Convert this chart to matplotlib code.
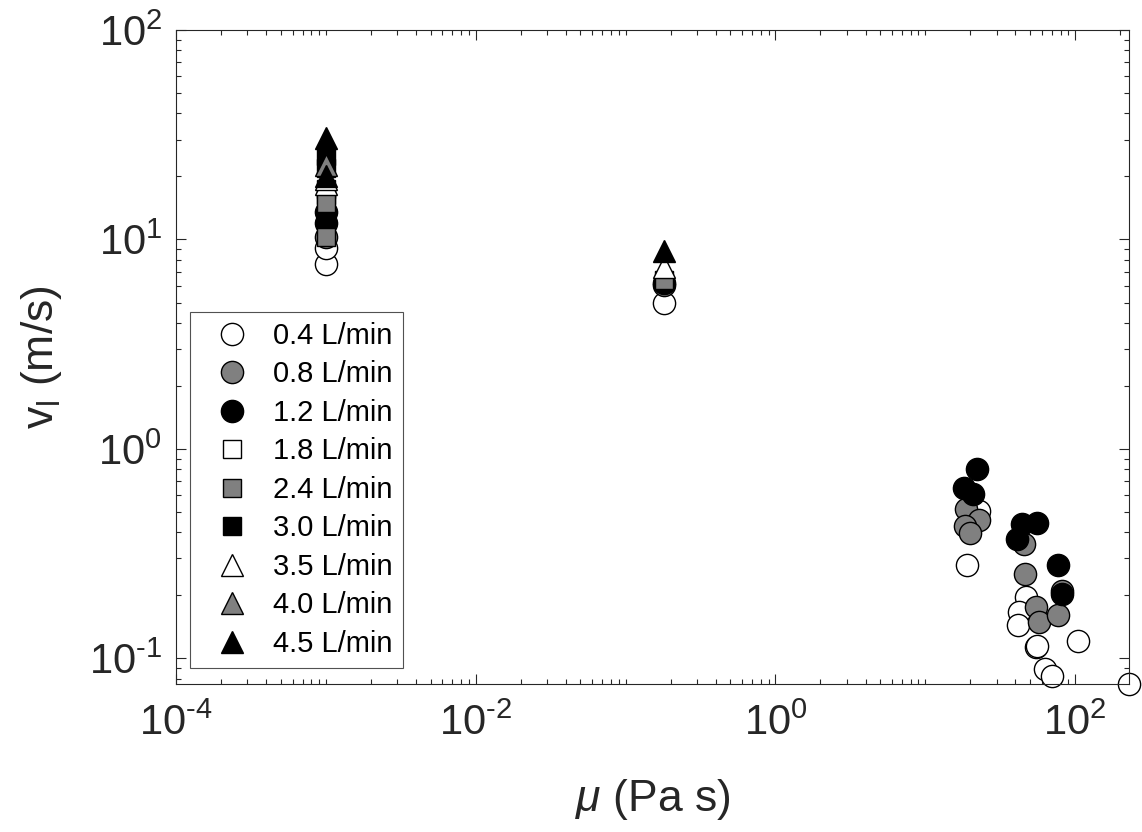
import matplotlib
matplotlib.use('Agg')
import numpy as np
from matplotlib import pyplot as plt
from matplotlib.ticker import FixedLocator, LogLocator, NullFormatter, FuncFormatter

plt.rcParams['font.family'] = ['Liberation Sans', 'DejaVu Sans']
plt.rcParams['mathtext.fontset'] = 'custom'
plt.rcParams['mathtext.rm'] = 'Liberation Sans'
plt.rcParams['mathtext.it'] = 'Liberation Sans:italic'
plt.rcParams['axes.unicode_minus'] = False

# viscosity (Pa s) and liquid velocity (m/s) for each flow rate
mu_04 = [1e-3, 1e-3, 0.18, 22.9, 19.1, 47.4, 42.3, 41.7, 54.7, 56, 62.6, 70.6, 105, 229]
v_04 = [7.6, 9.1, 4.95, 0.505, 0.278, 0.196, 0.166, 0.145, 0.113, 0.115, 0.0893, 0.082, 0.1216, 0.0755]

mu_08 = [1e-3, 0.18, 18.7, 22.9, 18.5, 19.9, 45.7, 46.4, 54.7, 57.5, 77.4, 82]
v_08 = [10.3, 6.05, 0.515, 0.456, 0.428, 0.398, 0.35, 0.253, 0.176, 0.149, 0.161, 0.21]

mu_12 = [1e-3, 1e-3, 0.18, 22.1, 18.2, 20.7, 44.5, 56.1, 41.2, 77.4, 81.5]
v_12 = [12.0, 13.5, 6.2, 0.805, 0.653, 0.607, 0.436, 0.445, 0.37, 0.279, 0.202]

mu_18 = [1e-3, 1e-3]
v_18 = [16.3, 17.5]

mu_24 = [1e-3, 1e-3, 0.18]
v_24 = [10.3, 15.0, 6.4]

mu_30 = [1e-3, 1e-3]
v_30 = [22.0, 25.0]

mu_35 = [1e-3, 1e-3, 0.18]
v_35 = [18.5, 19.5, 7.35]

mu_40 = [1e-3]
v_40 = [22.6]

mu_45 = [1e-3, 1e-3, 0.18]
v_45 = [20.0, 30.5, 8.85]

labels = ['0.4 L/min', '0.8 L/min', '1.2 L/min', '1.8 L/min', '2.4 L/min',
          '3.0 L/min', '3.5 L/min', '4.0 L/min', '4.5 L/min']

series = [(mu_04, v_04, 'o', 'white'), (mu_08, v_08, 'o', '#808080'),
          (mu_12, v_12, 'o', 'black'), (mu_18, v_18, 's', 'white'),
          (mu_24, v_24, 's', '#808080'), (mu_30, v_30, 's', 'black'),
          (mu_35, v_35, '^', 'white'), (mu_40, v_40, '^', '#808080'),
          (mu_45, v_45, '^', 'black')]


def pow10(v, pos):
    e = int(round(np.log10(v)))
    s = str(abs(e))
    if e < 0:
        s = r'\text{-}' + s
    return r'$\mathregular{10^{%s}}$' % s


fig = plt.figure(figsize=(11.42, 8.32), dpi=100)
ax = fig.add_axes([176 / 1142, 148 / 832, 953 / 1142, 654 / 832])

for (x, y, m, c), lab in zip(series, labels):
    ms = 16 if m != 's' else 13.5
    ax.plot(x, y, linestyle='none', marker=m, markersize=ms, markerfacecolor=c,
            markeredgecolor='black', markeredgewidth=1.0, label=lab, clip_on=False)

ax.set_xscale('log')
ax.set_yscale('log')
ax.set_xlim(1e-4, 229)
ax.set_ylim(0.0755, 100)

ax.xaxis.set_major_locator(FixedLocator([1e-4, 1e-2, 1, 1e2]))
ax.xaxis.set_major_formatter(FuncFormatter(pow10))
ax.xaxis.set_minor_locator(LogLocator(base=10, subs=range(1, 10), numticks=20))
ax.xaxis.set_minor_formatter(NullFormatter())
ax.yaxis.set_major_locator(FixedLocator([0.1, 1, 10, 100]))
ax.yaxis.set_major_formatter(FuncFormatter(pow10))
ax.yaxis.set_minor_locator(LogLocator(base=10, subs=range(2, 10), numticks=20))
ax.yaxis.set_minor_formatter(NullFormatter())

ax.tick_params(which='both', direction='in', top=True, right=True,
               colors='#262626', labelsize=30, width=0.8)
ax.tick_params(which='major', length=7)
ax.tick_params(axis='x', which='major', pad=14)
ax.tick_params(axis='y', which='major', pad=10)
ax.tick_params(which='minor', length=3.5)
for sp in ax.spines.values():
    sp.set_color('#262626')
    sp.set_linewidth(0.8)

ax.set_xlabel(r'$\mathit{\mu}$ (Pa s)', fontsize=32, color='#262626', labelpad=24)
ax.set_ylabel(r'v$_\mathregular{l}$ (m/s)', fontsize=32, color='#262626', labelpad=18)

leg = ax.legend(loc='lower left', bbox_to_anchor=(0.0147, 0.0245), borderaxespad=0,
                fontsize=21, frameon=True, fancybox=False, edgecolor='#262626',
                labelspacing=0.36, handletextpad=0.3, handlelength=2.2,
                borderpad=0.35, markerscale=1.0)
leg.get_frame().set_linewidth(0.8)

plt.savefig('out.png', dpi=100)
